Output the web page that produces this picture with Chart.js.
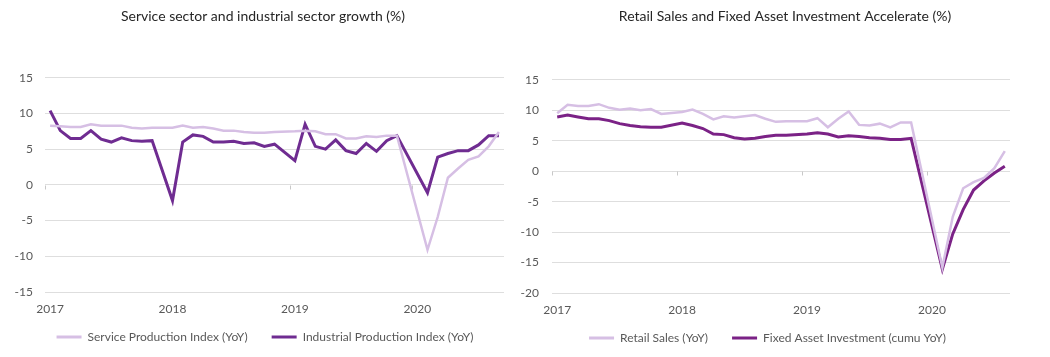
<!DOCTYPE html>
<html>
<head>
<meta charset="utf-8">
<script src="https://cdn.jsdelivr.net/npm/chart.js@4.4.1/dist/chart.umd.min.js"></script>
<style>
  html, body { margin: 0; padding: 0; background: #ffffff; }
  body { width: 1050px; height: 357px; position: relative; overflow: hidden; }
  .box { position: absolute; top: 0; height: 357px; }
  #leftBox { left: 0; width: 510px; }
  #rightBox { left: 510px; width: 540px; }
</style>
</head>
<body>
<div id="leftBox" class="box"><canvas id="leftChart" width="510" height="357"></canvas></div>
<div id="rightBox" class="box"><canvas id="rightChart" width="540" height="357"></canvas></div>
<script>
// ---------- Data ----------
const leftTitle = 'Service sector and industrial sector growth (%)';
const rightTitle = 'Retail Sales and Fixed Asset Investment Accelerate (%)';

// Monthly categories, Feb 2017 onwards
const leftMonths = [
  '2017-02','2017-03','2017-04','2017-05','2017-06','2017-07','2017-08','2017-09','2017-10','2017-11','2017-12',
  '2018-01','2018-02','2018-03','2018-04','2018-05','2018-06','2018-07','2018-08','2018-09','2018-10','2018-11','2018-12',
  '2019-01','2019-02','2019-03','2019-04','2019-05','2019-06','2019-07','2019-08','2019-09','2019-10','2019-11','2019-12',
  '2020-01','2020-02','2020-03','2020-04','2020-05','2020-06','2020-07','2020-08','2020-09','2020-10'
];
const rightMonths = [
  '2017-02','2017-03','2017-04','2017-05','2017-06','2017-07','2017-08','2017-09','2017-10','2017-11','2017-12',
  '2018-01','2018-02','2018-03','2018-04','2018-05','2018-06','2018-07','2018-08','2018-09','2018-10','2018-11','2018-12',
  '2019-01','2019-02','2019-03','2019-04','2019-05','2019-06','2019-07','2019-08','2019-09','2019-10','2019-11','2019-12',
  '2020-01','2020-02','2020-03','2020-04','2020-05','2020-06','2020-07','2020-08','2020-09'
];

// Year tick labels shown on the x axes, at these category indices
const yearTickIndex = [0, 12, 24, 36];
const yearTickLabels = ['2017', '2018', '2019', '2020'];
// Small axis tick marks on the zero line, between these category indices
const yearBoundaryIndex = [-0.5, 11.5, 23.5, 35.5];

const servicePI = [
  8.3, 8.2, 8.1, 8.1, 8.5, 8.3, 8.3, 8.3, 8.0, 7.9, 8.0,
  null, 8.0, 8.3, 8.0, 8.1, 7.9, 7.6, 7.6, 7.4, 7.3, 7.3, 7.4,
  null, 7.5, 7.6, 7.5, 7.1, 7.1, 6.5, 6.5, 6.8, 6.7, 6.9, 6.9,
  null, null, -9.1, -4.5, 1.0, 2.3, 3.5, 4.0, 5.4, 7.4
];
const industrialPI = [
  10.4, 7.6, 6.5, 6.5, 7.6, 6.4, 6.0, 6.6, 6.2, 6.1, 6.2,
  null, -2.2, 6.0, 7.0, 6.8, 6.0, 6.0, 6.1, 5.8, 5.9, 5.4, 5.7,
  null, 3.4, 8.5, 5.4, 5.0, 6.3, 4.8, 4.4, 5.8, 4.7, 6.2, 6.9,
  null, null, -1.1, 3.9, 4.4, 4.8, 4.8, 5.6, 6.9, 6.9
];
const retailSales = [
  9.5, 10.9, 10.7, 10.7, 11.0, 10.4, 10.1, 10.3, 10.0, 10.2, 9.4,
  null, 9.7, 10.1, 9.4, 8.5, 9.0, 8.8, 9.0, 9.2, 8.6, 8.1, 8.2,
  null, 8.2, 8.7, 7.2, 8.6, 9.8, 7.6, 7.5, 7.8, 7.2, 8.0, 8.0,
  null, null, -15.8, -7.5, -2.8, -1.8, -1.1, 0.5, 3.3
];
const fixedAssetInv = [
  8.9, 9.2, 8.9, 8.6, 8.6, 8.3, 7.8, 7.5, 7.3, 7.2, 7.2,
  null, 7.9, 7.5, 7.0, 6.1, 6.0, 5.5, 5.3, 5.4, 5.7, 5.9, 5.9,
  null, 6.1, 6.3, 6.1, 5.6, 5.8, 5.7, 5.5, 5.4, 5.2, 5.2, 5.4,
  null, null, -16.1, -10.3, -6.3, -3.1, -1.6, -0.3, 0.8
];

const leftYRange = { min: -15, max: 15, step: 5 };
const rightYRange = { min: -20, max: 15, step: 5 };

// ---------- Styling ----------
const FONT = 'Lato, "Open Sans", "Liberation Sans", sans-serif';
const LIGHT = '#d6bfe4';
const DARK = '#6f2c91';
const DARK2 = '#7b2286';
const GRID = '#dedede';
const TEXT = '#595959';

Chart.defaults.font.family = FONT;
Chart.defaults.color = TEXT;

// shifts the centred title / legend, and draws small axis tick marks on the zero line
const boxShift = {
  id: 'boxShift',
  afterLayout(chart, args, opts) {
    if (chart.legend) {
      chart.legend.left += opts.legendDx; chart.legend.right += opts.legendDx;
      chart.legend.top += opts.legendDy; chart.legend.bottom += opts.legendDy;
    }
    if (chart.titleBlock) { chart.titleBlock.left += opts.titleDx; chart.titleBlock.right += opts.titleDx; }
  },
  beforeDatasetsDraw(chart) {
    const xs = chart.scales.x, ys = chart.scales.y;
    const ctx = chart.ctx;
    const y0 = Math.round(ys.getPixelForValue(0)) + 0.5;
    const half = (xs.getPixelForValue(1) - xs.getPixelForValue(0)) / 2;
    ctx.save();
    ctx.strokeStyle = '#c8c8c8';
    ctx.lineWidth = 1;
    yearBoundaryIndex.forEach(b => {
      const base = Math.floor(b + 0.5);
      const px = Math.round(xs.getPixelForValue(base) - half) + 0.5;
      ctx.beginPath();
      ctx.moveTo(px, y0);
      ctx.lineTo(px, y0 + 4);
      ctx.stroke();
    });
    ctx.restore();
  }
};

function makeChart(canvasId, cfg) {
  const ctx = document.getElementById(canvasId);
  return new Chart(ctx, {
    type: 'line',
    plugins: [boxShift],
    data: {
      labels: cfg.labels,
      datasets: cfg.series.map(s => ({
        label: s.label,
        data: s.data,
        borderColor: s.color,
        backgroundColor: s.color,
        borderWidth: s.width,
        pointRadius: 0,
        pointHoverRadius: 0,
        tension: 0,
        spanGaps: true,
        fill: false
      }))
    },
    options: {
      responsive: false,
      animation: false,
      devicePixelRatio: 1,
      layout: { padding: cfg.padding },
      plugins: {
        boxShift: { legendDx: cfg.legendDx, legendDy: cfg.legendDy, titleDx: cfg.titleDx },
        title: {
          display: true,
          text: cfg.title,
          color: '#262626',
          font: { family: FONT, size: 14, weight: 'normal' },
          padding: { top: cfg.titleTop, bottom: cfg.titleBottom }
        },
        legend: {
          display: true,
          position: 'bottom',
          labels: {
            boxWidth: 25,
            boxHeight: 3,
            padding: 24,
            color: TEXT,
            font: { family: FONT, size: 12 },
            generateLabels(chart) {
              const items = Chart.defaults.plugins.legend.labels.generateLabels(chart);
              items.forEach(it => { it.lineWidth = 0; });
              return items;
            }
          }
        },
        tooltip: { enabled: false }
      },
      scales: {
        x: {
          type: 'category',
          offset: true,
          grid: { display: false, drawTicks: false },
          border: { display: false },
          afterFit(scale) { scale.height = cfg.xHeight; },
          ticks: {
            autoSkip: false,
            maxRotation: 0,
            padding: cfg.xPad,
            color: TEXT,
            font: { family: FONT, size: 12 },
            callback(value, index) {
              const k = yearTickIndex.indexOf(index);
              return k >= 0 ? yearTickLabels[k] : '';
            }
          }
        },
        y: {
          min: cfg.y.min,
          max: cfg.y.max,
          afterFit(scale) { scale.width = cfg.yWidth; },
          grid: { color: GRID, lineWidth: 1, drawTicks: false },
          border: { display: false },
          ticks: {
            stepSize: cfg.y.step,
            padding: cfg.yPad,
            color: TEXT,
            font: { family: FONT, size: 12 }
          }
        }
      }
    }
  });
}

makeChart('leftChart', {
  title: leftTitle,
  labels: leftMonths,
  y: leftYRange,
  series: [
    { label: 'Service Production Index (YoY)', data: servicePI, color: LIGHT, width: 2.5 },
    { label: 'Industrial Production Index (YoY)', data: industrialPI, color: DARK, width: 3 }
  ],
  padding: { left: 0, right: 6, top: 0, bottom: -10 },
  titleTop: 8, titleBottom: 53,
  yWidth: 45, yPad: 12,
  xHeight: 29, xPad: 10,
  titleDx: 11, legendDx: 13, legendDy: -14
});

makeChart('rightChart', {
  title: rightTitle,
  labels: rightMonths,
  y: rightYRange,
  series: [
    { label: 'Retail Sales (YoY)', data: retailSales, color: LIGHT, width: 2.5 },
    { label: 'Fixed Asset Investment (cumu YoY)', data: fixedAssetInv, color: DARK2, width: 3 }
  ],
  padding: { left: 0, right: 40, top: 0, bottom: -10 },
  titleTop: 8, titleBottom: 55,
  yWidth: 42, yPad: 13,
  xHeight: 28, xPad: 10,
  titleDx: 25, legendDx: 7.5, legendDy: -13
});
</script>
</body>
</html>
